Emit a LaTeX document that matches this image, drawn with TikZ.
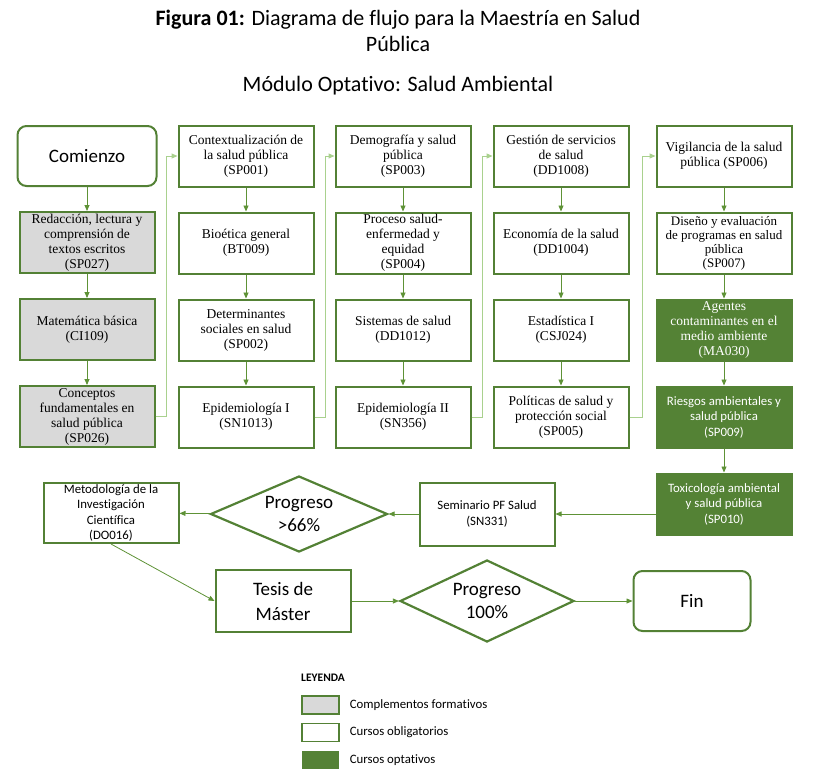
\documentclass[tikz,border=0pt]{standalone}
\usepackage{fontspec}
\setmainfont{Liberation Serif}
\newfontfamily\calibri[Ligatures=NoCommon]{Carlito}
\usetikzlibrary{arrows.meta, positioning, shapes.geometric}

\definecolor{boxgreen}{HTML}{538135}
\definecolor{optgreen}{HTML}{548235}
\definecolor{arrowgreen}{HTML}{5E9236}
\definecolor{linkgreen}{HTML}{A9D18E}
\definecolor{compgray}{HTML}{D9D9D9}

\begin{document}
\begin{tikzpicture}[
  x=1pt, y=-1pt,
  node distance=24pt,
  >={Triangle[length=6pt,width=5pt]},
  course/.style={draw=boxgreen, line width=2pt, minimum width=135pt, minimum height=61pt,
    align=center, inner sep=1pt, font=\fontsize{13.5}{15}\selectfont},
  compl/.style={course, fill=compgray},
  optional/.style={course, fill=optgreen, draw=optgreen, text=white},
  sans/.style={font=\calibri\fontsize{12.8}{15.5}\selectfont},
  terminal/.style={draw=boxgreen, line width=2pt, rounded corners=9pt, minimum height=60pt,
    font=\calibri\fontsize{19}{23}\selectfont},
  decision/.style={diamond, draw=boxgreen, line width=2.2pt, aspect=2.4, inner sep=0pt,
    minimum width=177pt, minimum height=76pt,
    align=center, font=\calibri\fontsize{19}{23}\selectfont},
  flow/.style={->, draw=arrowgreen, line width=0.8pt},
  link/.style={->, draw=linkgreen, line width=1pt},
  legkey/.style={minimum width=37pt, minimum height=18pt, inner sep=0pt, line width=1.2pt},
  legtext/.style={font=\calibri\fontsize{12.8}{14}\selectfont, inner sep=0pt}
]
  \useasboundingbox (0,0) rectangle (817,777);

  % Titles
  \node[font=\calibri\fontsize{22}{26}\selectfont, align=center] (title) at (398,31)
    {\textbf{Figura 01:} Diagrama de flujo para la Maestría en Salud\\Pública};
  \node[font=\calibri\fontsize{22}{26}\selectfont] (module) at (398,86) {Módulo Optativo: Salud Ambiental};

  % Top row
  \node[terminal, minimum width=139pt] (start) at (87,156) {Comienzo};
  \node[course] (ctx) at (246,156) {Contextualización de\\la salud pública\\(SP001)};
  \node[course] (demo) at (403,156) {Demografía y salud\\pública\\(SP003)};
  \node[course] (gest) at (561,156) {Gestión de servicios\\de salud\\(DD1008)};
  \node[course] (vigi) at (724,156) {Vigilancia de la salud\\pública (SP006)};

  % Column 1
  \node[compl, below=of start] (redac) {Redacción, lectura y\\comprensión de\\textos escritos\\(SP027)};
  \node[compl, below=of redac] (mate) {Matemática básica\\(CI109)};
  \node[compl, below=of mate] (conc) {Conceptos\\fundamentales en\\salud pública\\(SP026)};

  % Column 2
  \node[course, below=of ctx] (bioe) {Bioética general\\(BT009)};
  \node[course, below=of bioe] (deter) {Determinantes\\sociales en salud\\(SP002)};
  \node[course, below=of deter] (epi1) {Epidemiología I\\(SN1013)};

  % Column 3
  \node[course, below=of demo] (proc) {Proceso salud-\\enfermedad y\\equidad\\(SP004)};
  \node[course, below=of proc] (sist) {Sistemas de salud\\(DD1012)};
  \node[course, below=of sist] (epi2) {Epidemiología II\\(SN356)};

  % Column 4
  \node[course, below=of gest] (econ) {Economía de la salud\\(DD1004)};
  \node[course, below=of econ] (esta) {Estadística I\\(CSJ024)};
  \node[course, below=of esta] (poli) {Políticas de salud y\\protección social\\(SP005)};

  % Column 5
  \node[course, below=of vigi, font=\fontsize{13}{14}\selectfont] (dise) {Diseño y evaluación\\de programas en salud\\pública\\(SP007)};
  \node[optional, below=of dise] (agen) {Agentes\\contaminantes en el\\medio ambiente\\(MA030)};
  \node[optional, sans, below=of agen] (ries) {Riesgos ambientales y\\salud pública\\(SP009)};
  \node[optional, sans, below=of ries] (toxi) {Toxicología ambiental\\y salud pública\\(SP010)};

  % Bottom part
  \node[course, sans, minimum height=63pt] (semi) at (487,514) {Seminario PF Salud\\(SN331)};
  \node[decision] (d66) at (299,514) {Progreso\\>66\%};
  \node[course, sans, minimum height=60pt] (meto) at (111,513) {Metodología de la\\Investigación\\Científica\\(DO016)};
  \node[course, minimum height=62pt, font=\calibri\fontsize{19}{25}\selectfont] (tesis) at (283,601) {Tesis de\\Máster};
  \node[decision, minimum width=174pt, minimum height=82pt] (d100) at (487,601) {Progreso\\100\%};
  \node[terminal, minimum width=117pt] (fin) at (692,601) {Fin};

  % Legend
  \node[font=\calibri\bfseries\fontsize{11.5}{14}\selectfont, anchor=west, inner sep=0pt] (legtitle) at (301,678) {LEYENDA};
  \node[legkey, fill=compgray, draw=boxgreen] (keycomp) at (320.5,705) {};
  \node[legkey, draw=boxgreen] (keyobl) at (320.5,732.5) {};
  \node[legkey, fill=optgreen] (keyopt) at (320.5,760) {};
  \node[legtext, right=10pt of keycomp] (labcomp) {Complementos formativos};
  \node[legtext, right=10pt of keyobl] (labobl) {Cursos obligatorios};
  \node[legtext, right=10pt of keyopt] (labopt) {Cursos optativos};

  % Vertical arrows
  \draw[flow] (start) -- (redac);
  \draw[flow] (redac) -- (mate);
  \draw[flow] (mate) -- (conc);
  \draw[flow] (ctx) -- (bioe);
  \draw[flow] (bioe) -- (deter);
  \draw[flow] (deter) -- (epi1);
  \draw[flow] (demo) -- (proc);
  \draw[flow] (proc) -- (sist);
  \draw[flow] (sist) -- (epi2);
  \draw[flow] (gest) -- (econ);
  \draw[flow] (econ) -- (esta);
  \draw[flow] (esta) -- (poli);
  \draw[flow] (vigi) -- (dise);
  \draw[flow] (dise) -- (agen);
  \draw[flow] (agen) -- (ries);
  \draw[flow] (ries) -- (toxi);

  % Links between columns
  \draw[link] (conc.east) -- ++(11,0) |- (ctx.west);
  \draw[link] (epi1.east) -- ++(11,0) |- (demo.west);
  \draw[link] (epi2.east) -- ++(11,0) |- (gest.west);
  \draw[link] (poli.east) -- ++(13,0) |- (vigi.west);

  % Bottom flow
  \draw[flow] (toxi.west |- semi) -- (semi);
  \draw[flow] (semi) -- (d66);
  \draw[flow] (d66) -- (meto);
  \draw[flow] (meto.south) -- (tesis.west);
  \draw[flow] (tesis) -- (d100);
  \draw[flow] (d100) -- (fin);
\end{tikzpicture}
\end{document}
